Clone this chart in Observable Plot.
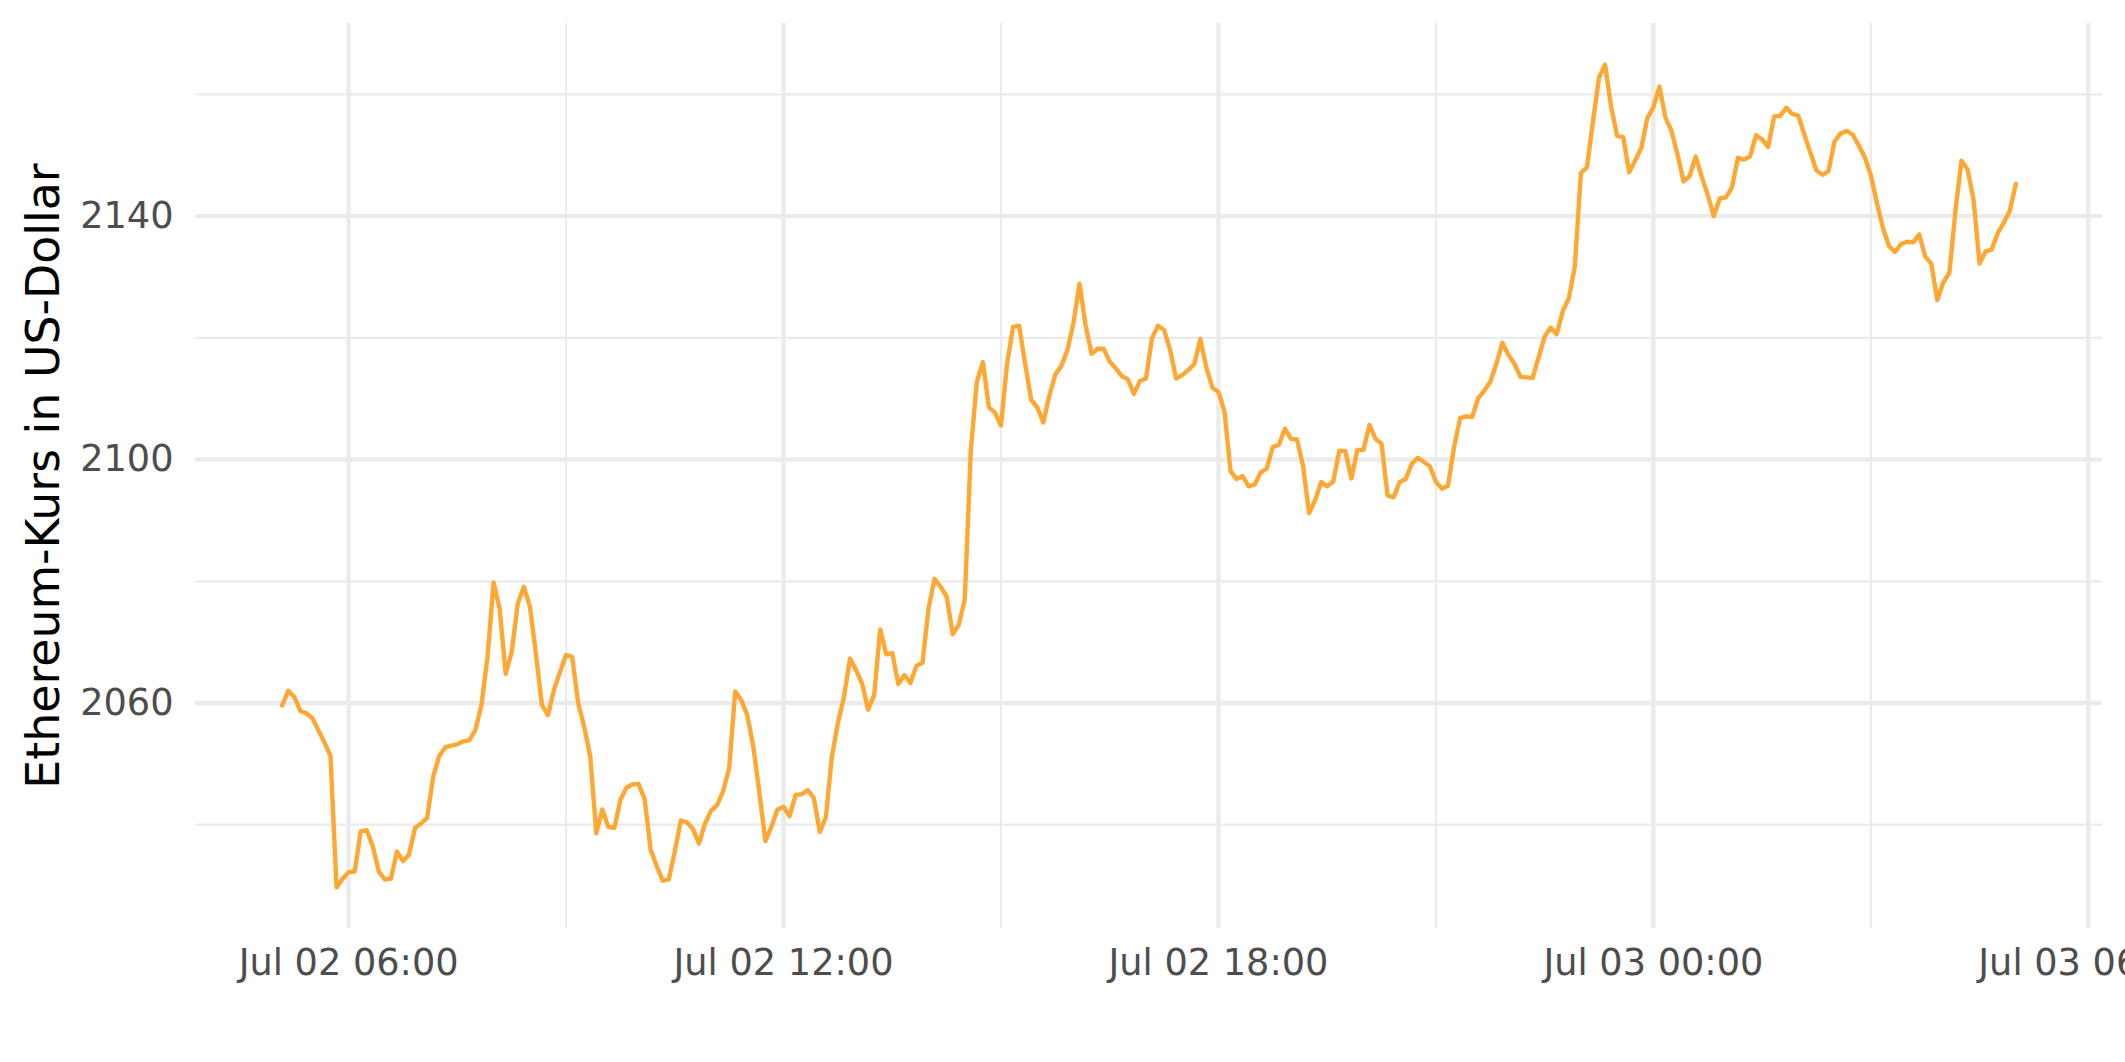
<!DOCTYPE html>
<html>
<head>
<meta charset="utf-8">
<script src="https://cdn.jsdelivr.net/npm/d3@7"></script>
<script src="https://cdn.jsdelivr.net/npm/@observablehq/plot@0.6"></script>
<style>
  html, body { margin: 0; padding: 0; background: #fff; overflow: hidden; }
  #chart svg { display: block; }
</style>
</head>
<body>
<div id="chart"></div>
<script>
// ---- data ----
const startTime = "2023-07-02T05:05:00Z";   // first observation
const stepMinutes = 5;                       // 5-minute candles
const prices = [
  2059.6, 2062.0, 2061.0, 2058.7, 2058.3, 2057.5, 2055.5, 2053.5, 2051.3, 2029.7, 2031.1, 2032.2,
  2032.3, 2038.9, 2039.1, 2036.4, 2032.3, 2031.0, 2031.1, 2035.6, 2034.0, 2035.1, 2039.5, 2040.2,
  2041.1, 2047.9, 2051.3, 2052.7, 2053.0, 2053.2, 2053.7, 2053.9, 2055.6, 2059.7, 2067.6, 2079.8,
  2075.5, 2064.8, 2068.4, 2076.3, 2079.1, 2075.9, 2068.1, 2059.7, 2058.0, 2062.2, 2065.1, 2067.9,
  2067.6, 2060.0, 2056.1, 2051.2, 2038.6, 2042.5, 2039.6, 2039.5, 2044.1, 2046.1, 2046.6, 2046.7,
  2044.2, 2035.9, 2033.2, 2030.8, 2031.0, 2035.6, 2040.7, 2040.4, 2039.3, 2036.9, 2040.2, 2042.3,
  2043.2, 2045.5, 2049.3, 2061.9, 2060.5, 2058.0, 2052.8, 2045.2, 2037.3, 2039.7, 2042.5, 2042.9,
  2041.4, 2044.9, 2045.0, 2045.7, 2044.4, 2038.8, 2041.2, 2051.2, 2056.7, 2061.0, 2067.3, 2065.4,
  2063.2, 2058.9, 2061.3, 2072.1, 2068.0, 2068.2, 2063.1, 2064.6, 2063.3, 2066.1, 2066.6, 2075.5,
  2080.4, 2079.1, 2077.5, 2071.3, 2072.8, 2077.0, 2101.5, 2112.8, 2116.0, 2108.6, 2107.7, 2105.6,
  2115.7, 2121.8, 2122.0, 2115.7, 2109.8, 2108.6, 2106.1, 2110.5, 2114.0, 2115.4, 2118.0, 2122.5,
  2128.9, 2122.1, 2117.4, 2118.2, 2118.2, 2116.1, 2115.0, 2113.7, 2113.2, 2110.8, 2112.9, 2113.3,
  2120.0, 2122.0, 2121.3, 2118.0, 2113.3, 2113.9, 2114.7, 2115.7, 2119.8, 2115.1, 2111.8, 2111.1,
  2107.9, 2098.1, 2096.8, 2097.3, 2095.6, 2095.9, 2097.9, 2098.5, 2102.1, 2102.4, 2105.1, 2103.4,
  2103.3, 2099.0, 2091.2, 2093.3, 2096.3, 2095.6, 2096.4, 2101.4, 2101.4, 2096.9, 2101.6, 2101.6,
  2105.7, 2103.4, 2102.6, 2094.1, 2093.8, 2096.3, 2096.8, 2099.3, 2100.3, 2099.6, 2098.9, 2096.3,
  2095.2, 2095.7, 2102.0, 2106.8, 2107.1, 2107.0, 2110.1, 2111.3, 2112.8, 2115.7, 2119.2, 2117.2,
  2115.7, 2113.6, 2113.5, 2113.4, 2116.8, 2120.2, 2121.7, 2120.6, 2124.4, 2126.5, 2131.8, 2147.1,
  2148.0, 2155.6, 2162.8, 2164.9, 2158.0, 2153.2, 2153.0, 2147.2, 2149.2, 2151.2, 2156.1, 2157.9,
  2161.3, 2156.2, 2154.0, 2150.1, 2145.7, 2146.6, 2149.8, 2146.5, 2143.5, 2140.0, 2142.9, 2143.1,
  2144.7, 2149.6, 2149.3, 2149.8, 2153.3, 2152.6, 2151.4, 2156.4, 2156.5, 2157.8, 2156.8, 2156.5,
  2153.4, 2150.4, 2147.5, 2146.8, 2147.4, 2152.3, 2153.6, 2154.0, 2153.4, 2151.6, 2149.7, 2146.7,
  2142.2, 2138.1, 2135.1, 2134.1, 2135.4, 2135.8, 2135.7, 2137.0, 2133.4, 2132.2, 2126.2, 2129.1,
  2130.7, 2140.8, 2149.1, 2147.7, 2142.7, 2132.2, 2134.2, 2134.5, 2137.2, 2138.9, 2140.9, 2145.3
];
const xMajorTicks = ["2023-07-02T06:00:00Z", "2023-07-02T12:00:00Z", "2023-07-02T18:00:00Z", "2023-07-03T00:00:00Z", "2023-07-03T06:00:00Z"];
const xMinorTicks = ["2023-07-02T09:00:00Z", "2023-07-02T15:00:00Z", "2023-07-02T21:00:00Z", "2023-07-03T03:00:00Z"];
const yMajorTicks = [2060, 2100, 2140];
const yMinorTicks = [2040, 2080, 2120, 2160];
const yTitle = "Ethereum-Kurs in US-Dollar";

// ---- build table ----
const t0 = new Date(startTime);
const data = prices.map((p, i) => ({time: new Date(+t0 + i * stepMinutes * 60000), price: p}));
const xMaj = xMajorTicks.map(d => new Date(d));
const xMin = xMinorTicks.map(d => new Date(d));

const [tMin, tMax] = d3.extent(data, d => +d.time);
const [pMin, pMax] = d3.extent(data, d => d.price);
const tPad = (tMax - tMin) * 0.05, pPad = (pMax - pMin) * 0.05;

const grid = "#EBEBEB";
const chart = Plot.plot({
  width: 2125,
  height: 1062,
  marginLeft: 195,
  marginRight: 23,
  marginTop: 23,
  marginBottom: 134,
  style: {fontFamily: "DejaVu Sans", color: "#4D4D4D", background: "#fff"},
  x: {type: "utc", domain: [new Date(tMin - tPad), new Date(tMax + tPad)], label: null},
  y: {domain: [pMin - pPad, pMax + pPad], label: null},
  marks: [
    Plot.gridX(xMin, {stroke: grid, strokeOpacity: 1, strokeWidth: 2.2}),
    Plot.gridY(yMinorTicks, {stroke: grid, strokeOpacity: 1, strokeWidth: 2.2}),
    Plot.gridX(xMaj, {stroke: grid, strokeOpacity: 1, strokeWidth: 4.4}),
    Plot.gridY(yMajorTicks, {stroke: grid, strokeOpacity: 1, strokeWidth: 4.4}),
    Plot.axisX({ticks: xMaj, tickFormat: d3.utcFormat("%b %d %H:%M"), tickSize: 0, tickPadding: 20,
                fontSize: 36.7, fill: "#4D4D4D", label: null}),
    Plot.axisY({ticks: yMajorTicks, tickFormat: d3.format("d"), tickSize: 0, tickPadding: 22,
                fontSize: 36.7, fill: "#4D4D4D", label: null}),
    Plot.text([yTitle], {text: d => d, frameAnchor: "left", textAnchor: "middle", rotate: -90, dx: -137,
                         lineAnchor: "bottom", fontSize: 45.8, fill: "#000"}),
    Plot.lineY(data, {x: "time", y: "price", stroke: "#FFA733", strokeWidth: 4.4, strokeLinejoin: "round"})
  ]
});
document.getElementById("chart").append(chart);
</script>
</body>
</html>
